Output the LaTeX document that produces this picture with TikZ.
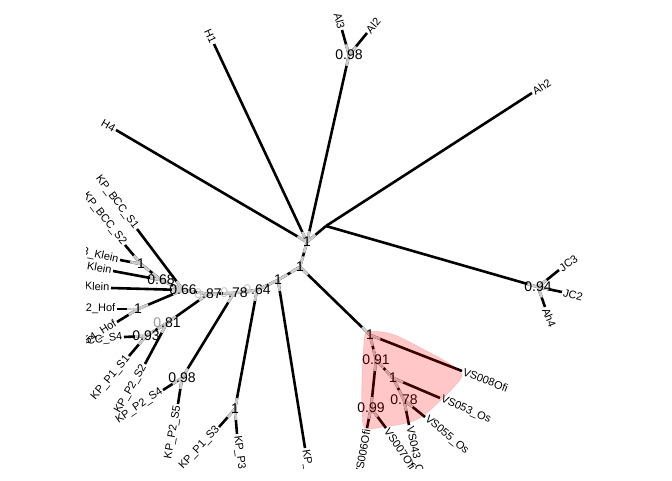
\documentclass[tikz,border=0pt]{standalone}
\usepackage{fontspec}
\setmainfont{Liberation Sans}
\usetikzlibrary{calc}
\begin{document}
\begin{tikzpicture}[x=1pt,y=-1pt,
  br/.style={line width=2.6pt,black},
  gr/.style={line width=2.6pt,black!20},
  supl/.style={font=\fontsize{14}{14}\selectfont,inner sep=0pt},
  tipR/.style={font=\fontsize{11}{11}\selectfont,anchor=west,inner sep=1.5pt},
  tipL/.style={font=\fontsize{11}{11}\selectfont,anchor=east,inner sep=1.5pt},
  hl/.style={fill=red,fill opacity=0.22,draw=red!60!black,draw opacity=0.12,line width=0.6pt}]
\useasboundingbox (0,0) rectangle (672,480);
\begin{scope}
\clip (86,0) rectangle (672,468);
% internal nodes
\coordinate (C) at (307,242);
\coordinate (N1) at (300,267);
\coordinate (N2) at (278,280);
\coordinate (N64) at (257,290);
\coordinate (N78) at (234,293);
\coordinate (N87) at (208,294);
\coordinate (N66) at (183,290);
\coordinate (N68) at (161,280);
\coordinate (NK1) at (141,264);
\coordinate (NH) at (138,309);
\coordinate (N81) at (167,323);
\coordinate (N93) at (146,336);
\coordinate (N98) at (182,378);
\coordinate (NP3) at (235,409);
\coordinate (NAl) at (349,55);
\coordinate (NAh) at (326,226);
\coordinate (NJC) at (538,287);
\coordinate (VS) at (370,335);
\coordinate (VS91) at (376,360);
\coordinate (VS1) at (393,378);
\coordinate (VS78) at (404,400);
\coordinate (VS99) at (371,408);
% tips
\coordinate (H4) at (116,130);
\coordinate (H1) at (214,44);
\coordinate (Al3) at (342,30);
\coordinate (Al2) at (367,33);
\coordinate (Ah2) at (532,93);
\coordinate (JC3) at (559,270);
\coordinate (JC2) at (562,292);
\coordinate (Ah4) at (545,307);
\coordinate (T008) at (462,371);
\coordinate (T053) at (440,398);
\coordinate (T055) at (425,417);
\coordinate (T043) at (409,425);
\coordinate (T007) at (386,428);
\coordinate (T006) at (367,428);
\coordinate (KPb) at (305,448);
\coordinate (KPP3) at (237,434);
\coordinate (KPS3) at (219,427);
\coordinate (P2S5) at (178,404);
\coordinate (P2S4) at (163,390);
\coordinate (P2S2) at (145,364);
\coordinate (P1S1) at (129,356);
\coordinate (BS4) at (124,337);
\coordinate (H54) at (117,322);
\coordinate (H2) at (117,309);
\coordinate (K3) at (111,288);
\coordinate (K2) at (113,271);
\coordinate (K1) at (120,260);
\coordinate (BS2) at (125,245);
\coordinate (BS1) at (137,229);
% black branches
\foreach \a/\b in {C/H4,C/H1,C/NAl,C/NAh,C/N1,NAl/Al3,NAl/Al2,NAh/Ah2,NAh/NJC,
  NJC/JC3,NJC/JC2,NJC/Ah4,N1/VS,N1/N2,VS/T008,VS/VS91,VS91/VS1,VS91/VS99,
  VS1/T053,VS1/VS78,VS78/T043,VS78/T055,VS99/T006,VS99/T007,N2/KPb,N2/N64,
  N64/NP3,N64/N78,NP3/KPS3,NP3/KPP3,N78/N98,N78/N87,N98/P2S5,N98/P2S4,
  N87/N81,N87/N66,N81/N93,N81/P2S2,N93/BS4,N93/P1S1,N66/N68,N66/K3,N66/NH,
  N66/BS1,N68/NK1,N68/K2,NK1/K1,NK1/BS2,NH/H2,NH/H54}
  \draw[br] (\a) -- (\b);
% grey segments around the nodes
\foreach \a/\b in {C/H4,C/H1,C/NAl,C/NAh,C/N1,NAl/Al3,NAl/Al2,
  NJC/JC3,NJC/JC2,NJC/Ah4,N1/VS,N1/N2,VS/T008,VS/VS91,VS91/VS1,VS91/VS99,
  VS1/T053,VS1/VS78,VS78/T043,VS78/T055,VS99/T006,VS99/T007,N2/KPb,N2/N64,
  N64/NP3,N64/N78,NP3/KPS3,NP3/KPP3,N78/N98,N78/N87,N98/P2S5,N98/P2S4,
  N87/N81,N87/N66,N81/N93,N81/P2S2,N93/BS4,N93/P1S1,N66/N68,N66/K3,N66/NH,
  N66/BS1,N68/NK1,N68/K2,NK1/K1,NK1/BS2,NH/H2,NH/H54,
  NAl/C,NJC/NAh,N1/C,VS/N1,VS91/VS,VS1/VS91,VS78/VS1,VS99/VS91,N2/N1,N64/N2,
  NP3/N64,N78/N64,N98/N78,N87/N78,N81/N87,N93/N81,N66/N87,N68/N66,NK1/N68,NH/N66}
  \draw[gr] (\a) -- ($(\a)!11pt!(\b)$);
% tip labels
\node[tipL,rotate=-30] at (H4) {H4};
\node[tipL,rotate=-65] at (H1) {H1};
\node[tipL,rotate=-75] at (Al3) {Al3};
\node[tipR,rotate=50] at (Al2) {Al2};
\node[tipR,rotate=33] at (Ah2) {Ah2};
\node[tipR,rotate=35] at (JC3) {JC3};
\node[tipR,rotate=-15] at (JC2) {JC2};
\node[tipR,rotate=-68] at (Ah4) {Ah4};
\node[tipR,rotate=-21] at (T008) {VS008Ofi};
\node[tipR,rotate=-24] at (T053) {VS053\_Os};
\node[tipR,rotate=-40] at (T055) {VS055\_Os};
\node[tipR,rotate=-78] at (T043) {VS043\_O};
\node[tipR,rotate=-56] at (T007) {VS007Ofi};
\node[tipL,rotate=80] at (T006) {VS006Ofi};
\node[tipR,rotate=-81] at (KPb) {KP\_};
\node[tipR,rotate=-83] at (KPP3) {KP\_P3\_};
\node[tipL,rotate=47] at (KPS3) {KP\_P1\_S3};
\node[tipL,rotate=80] at (P2S5) {KP\_P2\_S5};
\node[tipL,rotate=34] at (P2S4) {KP\_P2\_S4};
\node[tipL,rotate=60] at (P2S2) {KP\_P2\_S2};
\node[tipL,rotate=50] at (P1S1) {KP\_P1\_S1};
\node[tipL,rotate=8] at (BS4) {BCC\_S4};
\node[tipL,rotate=33] at (H54) {54\_Hof};
\node[tipL,rotate=0] at (H2) {2\_Hof};
\node[tipL,rotate=-2] at (K3) {\_Klein};
\node[tipL,rotate=-10] at (K2) {\_Klein};
\node[tipL,rotate=-12] at (K1) {3\_Klein};
\node[tipL,rotate=-52] at (BS2) {KP\_BCC\_S2};
\node[tipL,rotate=-53] at (BS1) {KP\_BCC\_S1};
% support values
\node[supl] (lC) at (C) {1};
\node[supl] (lN1) at (N1) {1};
\node[supl] (lN2) at (N2) {1};
\node[supl] (lN64) at (N64) {\textcolor{black!22}{0}.64};
\node[supl] (lN78) at (N78) {\textcolor{black!22}{0}.78};
\node[supl] (lN87) at (N87) {\textcolor{black!22}{0}.87};
\node[supl] (lN66) at (N66) {0.66};
\node[supl] (lN68) at (N68) {0.68};
\node[supl] (lNK1) at (NK1) {1};
\node[supl] (lNH) at (NH) {1};
\node[supl] (lN81) at (N81) {\textcolor{black!40}{0}.81};
\node[supl] (lN93) at (N93) {0.93};
\node[supl] (lN98) at (N98) {0.98};
\node[supl] (lNP3) at (NP3) {1};
\node[supl] (lNAl) at (NAl) {0.98};
\node[supl] (lNJC) at (NJC) {0.94};
\node[supl] (lVS) at (VS) {1};
\node[supl] (lVS91) at (VS91) {0.91};
\node[supl] (lVS1) at (VS1) {1};
\node[supl] (lVS78) at (VS78) {0.78};
\node[supl] (lVS99) at (VS99) {0.99};
% highlighted clade
\path[hl] plot[smooth cycle,tension=0.55] coordinates {(368,332) (392,334) (423,349) (450,364) (462,375) (453,388) (440,401) (423,416) (407,423) (383,427) (365,428) (362,410) (362,377) (364,343)};
\end{scope}
\end{tikzpicture}
\end{document}
